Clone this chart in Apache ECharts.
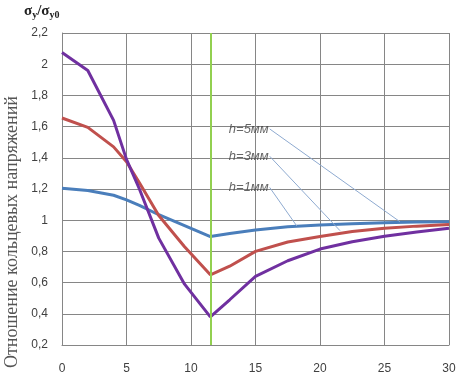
<!DOCTYPE html>
<html>
<head>
<meta charset="utf-8">
<script src="https://cdn.jsdelivr.net/npm/echarts@6/dist/echarts.min.js"></script>
<style>
  html, body { margin: 0; padding: 0; background: #fff; }
  #chart { width: 459px; height: 380px; }
</style>
</head>
<body>
<div id="chart"></div>
<script>
// distance values (x) shared by all three curves
const xVals = [0, 2, 4, 5, 6, 7.5, 9.5, 11.5, 13, 15, 17.5, 20, 22.5, 25, 27.5, 30];
const h1 = [1.205, 1.19, 1.16, 1.13, 1.095, 1.035, 0.965, 0.895, 0.915, 0.937, 0.958, 0.97, 0.978, 0.984, 0.988, 0.99];
const h3 = [1.655, 1.595, 1.47, 1.375, 1.24, 1.03, 0.83, 0.65, 0.705, 0.80, 0.86, 0.895, 0.927, 0.948, 0.962, 0.972];
const h5 = [2.075, 1.96, 1.64, 1.39, 1.2, 0.885, 0.59, 0.38, 0.49, 0.64, 0.74, 0.815, 0.862, 0.897, 0.925, 0.948];
const markX = 11.5;
// leader lines for the notes: [label, start x, start y, end x, end y]
const notes = [
  ['h=5мм', 16.1, 1.585, 26.2, 0.99],
  ['h=3мм', 16.1, 1.41, 21.55, 0.933],
  ['h=1мм', 16.1, 1.21, 18.2, 0.963]
];

const pair = ys => xVals.map((x, i) => [x, ys[i]]);

const chart = echarts.init(document.getElementById('chart'));

const lineSeries = (name, ys, color) => ({
  name: name,
  type: 'line',
  data: pair(ys),
  symbol: 'none',
  smooth: false,
  lineStyle: { color: color, width: 3 },
  z: 3
});

chart.setOption({
  animation: false,
  grid: { left: 62, right: 10, top: 33, bottom: 35 },
  xAxis: {
    type: 'value',
    min: 0, max: 30, interval: 5,
    axisLine: { show: true, lineStyle: { color: '#868686' } },
    axisTick: { show: false },
    axisLabel: { color: '#404040', fontFamily: 'Liberation Sans', fontSize: 12, margin: 18 },
    splitLine: { show: true, lineStyle: { color: '#868686', width: 1 } }
  },
  yAxis: {
    type: 'value',
    min: 0.2, max: 2.2, interval: 0.2,
    axisLine: { show: true, lineStyle: { color: '#868686' } },
    axisTick: { show: false },
    axisLabel: {
      color: '#404040', fontFamily: 'Liberation Sans', fontSize: 12, margin: 14,
      formatter: v => String(Math.round(v * 10) / 10).replace('.', ',')
    },
    splitLine: { show: true, lineStyle: { color: '#868686', width: 1 } }
  },
  series: [
    lineSeries('h=1мм', h1, '#4a7ebb'),
    lineSeries('h=3мм', h3, '#c0504d'),
    Object.assign(lineSeries('h=5мм', h5, '#7030a0'), {
      markLine: {
        silent: true,
        symbol: 'none',
        label: { show: false },
        lineStyle: { color: '#92d050', width: 2, type: 'solid' },
        data: [{ xAxis: markX }]
      }
    }),
    {
      name: 'notes',
      type: 'scatter',
      symbolSize: 0,
      data: notes.map(n => ({ value: [n[1], n[2]], name: n[0] })),
      label: {
        show: true,
        position: 'left',
        distance: 1,
        formatter: p => p.name,
        color: '#404040',
        fontStyle: 'italic',
        fontFamily: 'Liberation Sans',
        fontSize: 13
      },
      markLine: {
        silent: true,
        symbol: 'none',
        label: { show: false },
        lineStyle: { color: '#8eaad0', width: 1, type: 'solid' },
        data: notes.map(n => [{ coord: [n[1], n[2]] }, { coord: [n[3], n[4]] }])
      },
      z: 4
    }
  ],
  graphic: [
    {
      type: 'text',
      x: 12, y: 232,
      rotation: Math.PI / 2,
      style: {
        text: 'Отношение кольцевых напряжений',
        fill: '#555',
        font: '18px "Liberation Serif"',
        textAlign: 'center',
        textVerticalAlign: 'middle'
      }
    },
    {
      type: 'text',
      left: 24, top: 4,
      style: {
        text: '{b|σ}{s|y}{b|/σ}{s|y0}',
        rich: {
          b: { font: 'bold 15px "Liberation Serif"', fill: '#222' },
          s: { font: 'bold 10px "Liberation Serif"', fill: '#222', padding: [8, 0, 0, 0] }
        }
      }
    }
  ]
});
</script>
</body>
</html>
